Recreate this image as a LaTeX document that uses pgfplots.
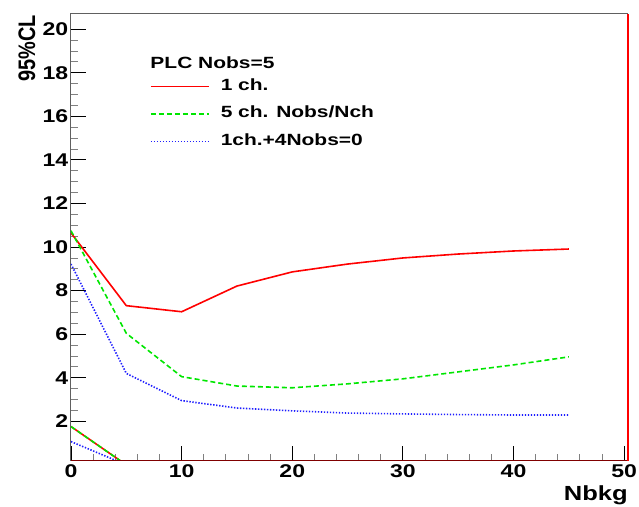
\documentclass[border=0pt]{standalone}
\usepackage{graphicx}
\usepackage{pgfplots}
\pgfplotsset{compat=1.18}
\usepackage{fontspec}
\setmainfont{Liberation Sans}

\definecolor{rootred}{RGB}{255,0,0}
\definecolor{rootgreen}{RGB}{0,230,0}
\definecolor{rootblue}{RGB}{30,30,255}

% wide bold face used for all labels
\newcommand{\wide}[1]{\scalebox{1.25}[1]{#1}}
\newcommand{\widel}[1]{\scalebox{1.29}[1]{#1}}

\begin{document}
\begin{tikzpicture}
\path (0,0) rectangle (639bp,507bp);
\begin{axis}[
  at={(71bp,46bp)}, anchor=south west,
  scale only axis, width=557bp, height=447bp,
  xmin=0, xmax=50.34, ymin=0.18, ymax=20.7,
  xtick={0,10,20,30,40,50}, minor x tick num=4,
  ytick={2,4,6,8,10,12,14,16,18,20}, minor y tick num=3,
  tick align=inside,
  major tick length=15bp, minor tick length=7bp,
  every tick/.style={black, line width=0.9bp},
  every minor tick/.style={gray, line width=0.9bp},
  xtick pos=bottom, ytick pos=left,
  axis line style={gray!75!black, line width=1bp},
  xticklabel={\wide{\pgfmathprintnumber[assume math mode=true]{\tick}}},
  yticklabel={\wide{\pgfmathprintnumber[assume math mode=true]{\tick}}},
  ticklabel style={font=\fontsize{18.5}{20}\selectfont\bfseries},
  yticklabel style={inner sep=2.5bp},
  xticklabel style={inner sep=2bp, yshift=-1bp},
  clip mode=individual,
  legend cell align=left,
  legend image code/.code={\draw[#1] (0bp,0bp) -- (58bp,0bp);},
  legend style={draw=none, fill=none, at={(rel axis cs:0.1418,0.861)},
    anchor=north west, inner sep=0pt, row sep=7.5bp,
    font=\fontsize{16.3}{19}\selectfont\bfseries,
    nodes={inner sep=2bp, text height=12bp, text depth=4bp},
    /tikz/every odd column/.append style={column sep=9bp}},
]
% 1 channel
\addplot[rootred, line width=1.6bp] coordinates {
  (0,10.65) (5,7.31) (10,7.03) (15,8.21) (20,8.86) (25,9.22)
  (30,9.50) (35,9.68) (40,9.82) (45,9.91)};
\addlegendentry{\widel{1 ch.}}
% 5 channels, Nobs split over channels
\addplot[rootgreen, line width=1.6bp, dash pattern=on 5bp off 3bp] coordinates {
  (0,10.75) (5,6.04) (10,4.05) (15,3.62) (20,3.54) (25,3.72)
  (30,3.95) (35,4.27) (40,4.59) (45,4.96)};
\addlegendentry{\widel{5 ch. Nobs/Nch}}
% 1 channel plus four empty channels
\addplot[rootblue, line width=1.6bp, dash pattern=on 1.4bp off 1.6bp] coordinates {
  (0,9.22) (5,4.20) (10,2.95) (15,2.61) (20,2.48) (25,2.38)
  (30,2.34) (35,2.31) (40,2.29) (45,2.29)};
\addlegendentry{\widel{1ch.+4Nobs=0}}
% lower bounds
\addplot[rootred, line width=1.6bp, forget plot] coordinates {(0,1.76) (5,0)};
\addplot[rootgreen, line width=1.6bp, dash pattern=on 5bp off 3bp, forget plot] coordinates {(0,1.76) (5,0)};
\addplot[rootblue, line width=1.6bp, dash pattern=on 1.4bp off 1.6bp, forget plot] coordinates {(0,1.07) (5,0)};

\draw[red!50!black, line width=1bp] (rel axis cs:0,0) -- (rel axis cs:1,0);
\draw[rootred, line width=2.5bp] (rel axis cs:1,0) -- (rel axis cs:1,1);

\node[anchor=base west, font=\fontsize{16.3}{19}\selectfont\bfseries]
  at (rel axis cs:0.1364,0.879) {\widel{PLC Nobs=5}};
\node[anchor=north east, font=\fontsize{20.5}{22}\selectfont\bfseries, inner sep=0pt]
  at (rel axis cs:1,-0.056) {\wide{Nbkg}};
\node[rotate=90, yscale=1.2, anchor=east, inner sep=0pt,
  font=\fontsize{20}{22}\selectfont\bfseries]
  at (rel axis cs:-0.079,0.998) {95\%CL};
\end{axis}
\end{tikzpicture}
\end{document}
